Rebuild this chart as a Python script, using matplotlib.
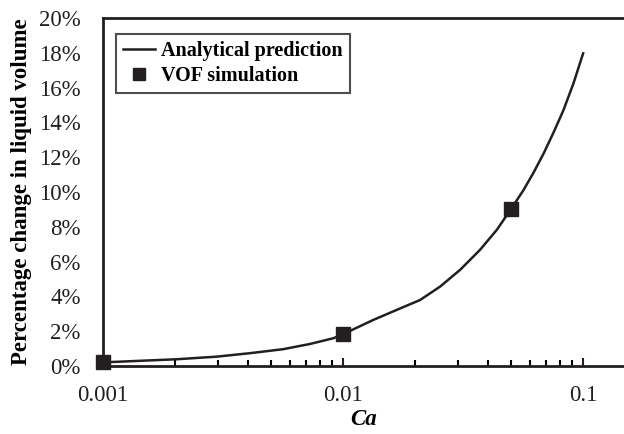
import matplotlib
matplotlib.use("Agg")
from matplotlib import pyplot as plt
from matplotlib.ticker import FixedLocator, NullFormatter, FuncFormatter

# analytical prediction
ca_line = [0.001, 0.00203, 0.00298, 0.0041, 0.00564, 0.00729, 0.00912, 0.01,
           0.01336, 0.01675, 0.02096, 0.02538, 0.03073, 0.0372, 0.0437, 0.05,
           0.0564, 0.0621, 0.0684, 0.0752, 0.0828, 0.0912, 0.1]
pct_line = [0.20, 0.38, 0.53, 0.73, 0.96, 1.26, 1.59, 1.82,
            2.64, 3.22, 3.79, 4.56, 5.52, 6.67, 7.82, 9.00,
            10.1, 11.1, 12.2, 13.4, 14.7, 16.25, 17.97]

# VOF simulation points
ca_vof = [0.001, 0.01, 0.05]
pct_vof = [0.20, 1.82, 9.00]

x_ticks = [0.001, 0.01, 0.1]
x_tick_labels = ["0.001", "0.01", "0.1"]

if __name__ == '__main__':
    plt.rcParams["font.family"] = ["Liberation Serif", "DejaVu Serif"]
    fig = plt.figure(figsize=(6.24, 4.34), dpi=100)
    ax = fig.add_axes([0.165, 0.157, 0.835, 0.8015])

    ax.plot(ca_line, pct_line, color="#231f20", lw=1.8, label="Analytical prediction")
    ax.plot(ca_vof, pct_vof, "s", color="#231f20", ms=10, label="VOF simulation",
            clip_on=False, zorder=5)

    ax.set_xscale("log")
    ax.set_xlim(0.001, 0.148)
    ax.set_ylim(0, 20)

    ax.xaxis.set_major_locator(FixedLocator(x_ticks))
    ax.xaxis.set_major_formatter(FuncFormatter(lambda v, p: x_tick_labels[x_ticks.index(v)] if v in x_ticks else ""))
    ax.xaxis.set_minor_locator(FixedLocator([k * 10.0 ** e for e in (-3, -2, -1) for k in range(2, 10)]))
    ax.xaxis.set_minor_formatter(NullFormatter())
    ax.tick_params(axis="x", which="major", direction="in", length=6, width=1.5, labelsize=16.5, pad=14,
                   colors="#231f20")
    ax.tick_params(axis="x", which="minor", direction="in", length=4, width=1.5)

    ax.set_yticks(range(0, 21, 2))
    ax.set_yticklabels(["%d%%" % v for v in range(0, 21, 2)])
    ax.tick_params(axis="y", length=0, labelsize=16.5, pad=16, colors="#231f20")

    for s in ["left", "bottom", "top"]:
        ax.spines[s].set_linewidth(2)
        ax.spines[s].set_color("#231f20")
    ax.spines["right"].set_visible(False)

    ax.set_xlabel("Ca", fontsize=16.5, fontweight="bold", style="italic", labelpad=2)
    ax.set_ylabel("Percentage change in liquid volume", fontsize=16.5, fontweight="bold", labelpad=5)

    leg = ax.legend(loc="upper left", bbox_to_anchor=(0.025, 0.955), frameon=True, fancybox=False,
                    edgecolor="#231f20", prop={"weight": "bold", "size": 14.5}, handlelength=1.6,
                    handletextpad=0.3, borderpad=0.35, labelspacing=0.25, borderaxespad=0)
    leg.get_frame().set_linewidth(1.5)
    leg.legend_handles[1].set_markersize(9)

    plt.savefig("out.png", dpi=100)
